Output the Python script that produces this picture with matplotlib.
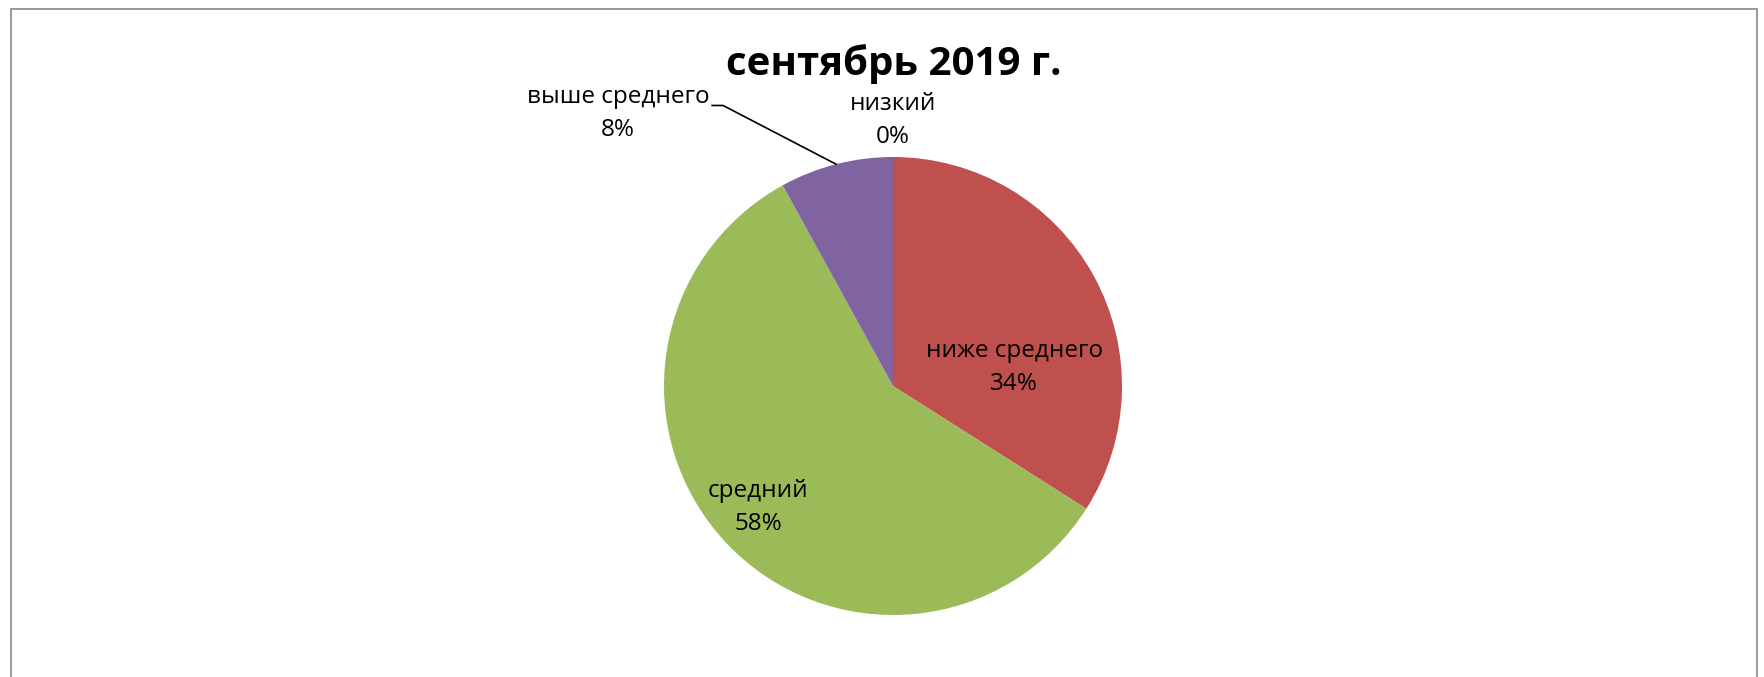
import numpy as np
import matplotlib.pyplot as plt
from matplotlib.patches import Rectangle

# Data
categories = ['низкий', 'ниже среднего', 'средний', 'выше среднего']
values = [0, 34, 58, 8]
colors = ['#4F81BD', '#C0504D', '#9BBB59', '#8064A2']
title = 'сентябрь 2019 г.'

plt.rcParams['font.family'] = ['Open Sans', 'DejaVu Sans']

W, H = 1764, 677
fig = plt.figure(figsize=(W / 100, H / 100), dpi=100)

# chart frame
fig.patches.append(Rectangle((11 / W, -0.05), (1757 - 11) / W, 1.05 - 9 / H,
                             transform=fig.transFigure, fill=False,
                             edgecolor='#888888', linewidth=1.2))

# pie axes: center (893, 386), radius 229 px
cx, cy, R = 893, 386, 229
lim = 1.3
size = 2 * lim * R
ax = fig.add_axes([(cx - size / 2) / W, (H - cy - size / 2) / H, size / W, size / H])
ax.axis('off')

wedges, _ = ax.pie(values, colors=colors, startangle=90, counterclock=False,
                   radius=1.0, wedgeprops=dict(linewidth=0))
ax.set_xlim(-lim, lim)
ax.set_ylim(-lim, lim)

total = sum(values)
pct = [f'{round(v / total * 100)}%' for v in values]

# label positions (in units of pie radius)
label_pos = {
    'низкий': (0.0, 1.16),
    'ниже среднего': (0.53, 0.08),
    'средний': (-0.59, -0.53),
    'выше среднего': (-1.20, 1.19),
}
for cat, p in zip(categories, pct):
    x, y = label_pos[cat]
    ax.text(x, y, f'{cat}\n{p}', ha='center', va='center', fontsize=17.5,
            linespacing=1.5, color='black')

# leader line for "выше среднего"
w = wedges[3]
mid = np.deg2rad((w.theta1 + w.theta2) / 2)
ax.plot([-0.79, -0.742, np.cos(mid)], [1.225, 1.225, np.sin(mid)],
        color='black', linewidth=1.2, clip_on=False)

fig.text(894 / W, 1 - 64 / H, title, ha='center', va='center',
         fontsize=29, fontweight='bold')

fig.savefig('out.png', dpi=100)
